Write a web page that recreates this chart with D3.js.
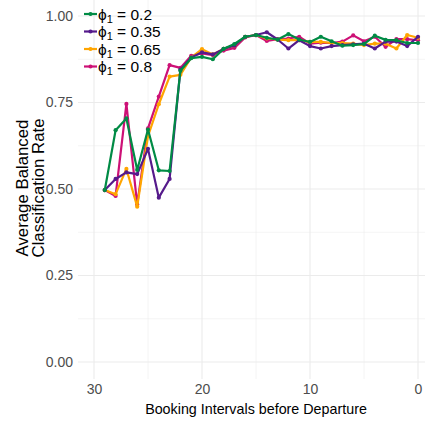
<!DOCTYPE html>
<html>
<head>
<meta charset="utf-8">
<script src="https://cdn.jsdelivr.net/npm/d3@7"></script>
<style>
  html, body { margin: 0; padding: 0; background: #fff; }
  svg { display: block; font-family: "Liberation Sans", Arial, sans-serif; }
</style>
</head>
<body>
<svg id="chart" width="425" height="423"></svg>
<script>
// Booking intervals before departure (29 down to 0)
const intervals = [29, 28, 27, 26, 25, 24, 23, 22, 21, 20, 19, 18, 17, 16, 15,
                   14, 13, 12, 11, 10, 9, 8, 7, 6, 5, 4, 3, 2, 1, 0];

// Average balanced classification rate per phi_1 setting
const phi020 = [0.497, 0.670, 0.704, 0.555, 0.672, 0.554, 0.552, 0.842, 0.878, 0.882,
                0.875, 0.905, 0.919, 0.940, 0.945, 0.937, 0.932, 0.948, 0.932, 0.925,
                0.940, 0.927, 0.914, 0.916, 0.919, 0.943, 0.931, 0.930, 0.922, 0.922];
const phi035 = [0.497, 0.529, 0.548, 0.543, 0.616, 0.475, 0.529, 0.845, 0.880, 0.895,
                0.889, 0.905, 0.915, 0.940, 0.945, 0.953, 0.932, 0.906, 0.930, 0.913,
                0.906, 0.913, 0.916, 0.918, 0.920, 0.906, 0.926, 0.926, 0.913, 0.940];
const phi065 = [0.497, 0.485, 0.558, 0.449, 0.653, 0.745, 0.825, 0.830, 0.880, 0.904,
                0.889, 0.905, 0.915, 0.940, 0.945, 0.935, 0.932, 0.930, 0.930, 0.925,
                0.925, 0.922, 0.922, 0.920, 0.916, 0.920, 0.920, 0.906, 0.945, 0.937];
const phi080 = [0.497, 0.480, 0.746, 0.455, 0.675, 0.767, 0.858, 0.850, 0.885, 0.892,
                0.887, 0.900, 0.908, 0.938, 0.945, 0.928, 0.933, 0.935, 0.940, 0.920,
                0.923, 0.922, 0.926, 0.944, 0.927, 0.940, 0.911, 0.933, 0.933, 0.930];

const seriesNames = ["0.2", "0.35", "0.65", "0.8"];
const seriesColors = ["#008B45", "#551A8B", "#FFA500", "#CD1076"];
const seriesValues = [phi020, phi035, phi065, phi080];

const xTicks = [30, 20, 10, 0];
const xMinor = [25, 15, 5];
const yTicks = [0, 0.25, 0.5, 0.75, 1];
const yMinor = [0.125, 0.375, 0.625, 0.875];

const svg = d3.select("#chart");
const panel = { left: 78, right: 425, top: 0, bottom: 379 };

const x = d3.scaleLinear().domain([30, 0]).range([94, 418]);
const y = d3.scaleLinear().domain([0, 1]).range([362, 16]);

// Grid
const grid = svg.append("g");
grid.selectAll("line.ymin").data(yMinor).join("line")
  .attr("x1", panel.left).attr("x2", panel.right)
  .attr("y1", d => y(d)).attr("y2", d => y(d))
  .attr("stroke", "#ebebeb").attr("stroke-width", 0.55);
grid.selectAll("line.xmin").data(xMinor).join("line")
  .attr("y1", panel.top).attr("y2", panel.bottom)
  .attr("x1", d => x(d)).attr("x2", d => x(d))
  .attr("stroke", "#ebebeb").attr("stroke-width", 0.55);
grid.selectAll("line.ymaj").data(yTicks).join("line")
  .attr("x1", panel.left).attr("x2", panel.right)
  .attr("y1", d => y(d)).attr("y2", d => y(d))
  .attr("stroke", "#ebebeb").attr("stroke-width", 1.1);
grid.selectAll("line.xmaj").data(xTicks).join("line")
  .attr("y1", panel.top).attr("y2", panel.bottom)
  .attr("x1", d => x(d)).attr("x2", d => x(d))
  .attr("stroke", "#ebebeb").attr("stroke-width", 1.1);

// Axes (labels only, minimal style)
const yAxis = svg.append("g").attr("transform", `translate(${panel.left},0)`)
  .call(d3.axisLeft(y).tickValues(yTicks).tickFormat(d3.format(".2f")).tickSize(0).tickPadding(5));
const xAxis = svg.append("g").attr("transform", `translate(0,${panel.bottom})`)
  .call(d3.axisBottom(x).tickValues(xTicks).tickFormat(d3.format("d")).tickSize(0).tickPadding(5));
[xAxis, yAxis].forEach(a => {
  a.select(".domain").remove();
  a.selectAll("text").attr("fill", "#4d4d4d").style("font-size", "14px")
    .style("font-family", "'Liberation Sans', Arial, sans-serif");
});

// Axis titles
svg.append("text").attr("x", 256).attr("y", 414).attr("text-anchor", "middle")
  .style("font-size", "14.3px").attr("fill", "#000")
  .text("Booking Intervals before Departure");
const yt = svg.append("text").attr("transform", "translate(0,188) rotate(-90)")
  .attr("text-anchor", "middle").style("font-size", "16.8px").attr("fill", "#000");
yt.append("tspan").attr("x", 0).attr("y", 28).text("Average Balanced");
yt.append("tspan").attr("x", 0).attr("y", 43.5).text("Classification Rate");

// Series lines and points (green drawn last so it sits on top)
const line = d3.line().x((d, i) => x(intervals[i])).y(d => y(d));
const order = [3, 2, 1, 0];
order.forEach(k => {
  const g = svg.append("g");
  g.append("path").datum(seriesValues[k])
    .attr("d", line).attr("fill", "none")
    .attr("stroke", seriesColors[k]).attr("stroke-width", 2.2)
    .attr("stroke-linejoin", "round");
  g.selectAll("circle").data(seriesValues[k]).join("circle")
    .attr("cx", (d, i) => x(intervals[i])).attr("cy", d => y(d))
    .attr("r", 2.1).attr("fill", seriesColors[k]);
});

// Legend
const legend = svg.append("g");
seriesNames.forEach((name, i) => {
  const cy = 14 + i * 17.5;
  const row = legend.append("g");
  row.append("line").attr("x1", 84).attr("x2", 97).attr("y1", cy).attr("y2", cy)
    .attr("stroke", seriesColors[i]).attr("stroke-width", 2.2);
  row.append("circle").attr("cx", 90.5).attr("cy", cy).attr("r", 2.1).attr("fill", seriesColors[i]);
  const t = row.append("text").attr("x", 98).attr("y", cy + 5.5).style("font-size", "15.5px").attr("fill", "#000");
  t.append("tspan").text("ϕ");
  t.append("tspan").attr("dy", 3).style("font-size", "11px").text("1");
  t.append("tspan").attr("dy", -3).text(" = " + name);
});
</script>
</body>
</html>
